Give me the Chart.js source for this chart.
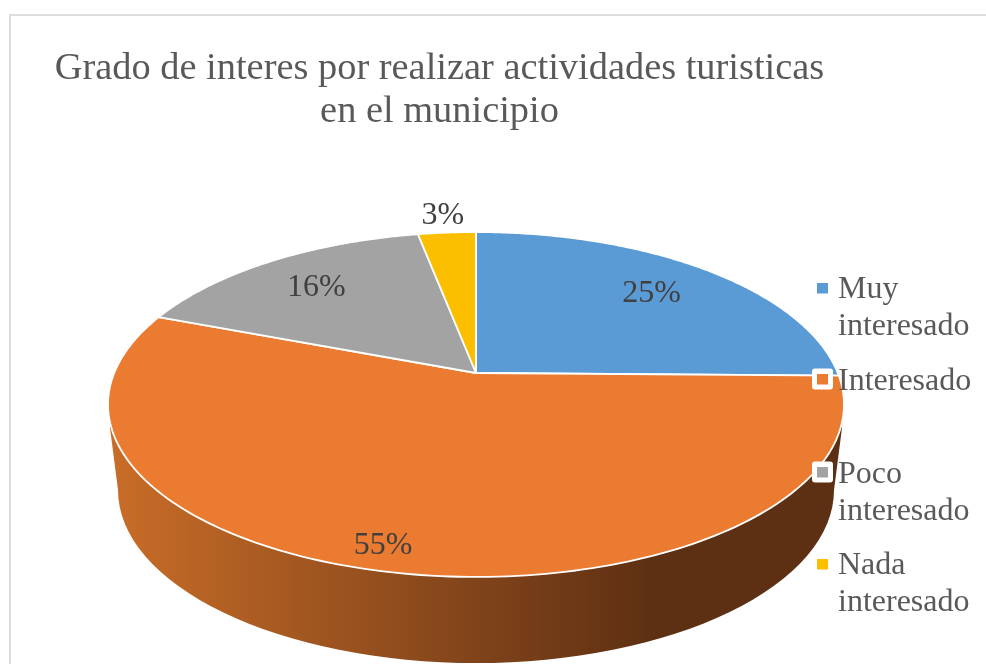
<!DOCTYPE html>
<html lang="es">
<head>
<meta charset="utf-8">
<style>html,body{margin:0;padding:0;background:#fff}canvas{display:block}</style>
<script src="https://cdn.jsdelivr.net/npm/chart.js@4/dist/chart.umd.min.js"></script>
</head>
<body>
<canvas id="c" width="986" height="664"></canvas>
<script>
const titleLines = ['Grado de interes por realizar actividades turisticas', 'en el municipio'];
const categories = ['Muy interesado', 'Interesado', 'Poco interesado', 'Nada interesado'];
const legendLines = [['Muy', 'interesado'], ['Interesado'], ['Poco', 'interesado'], ['Nada', 'interesado']];
const values = [25, 55, 16, 3];
const colors = ['#5B9BD5', '#EA7B31', '#A3A3A3', '#FBBF00'];

const FONT = '"Liberation Serif", "Times New Roman", serif';
// Perspective projection of the unit disc onto the page
const P = {cx: 476, cy: 373, bx: 361.8, ay: 166.7, k: -0.1826};
function project(u, v) {
  const w = 1 + P.k * v;
  return [P.cx + P.bx * u / w, P.cy + P.ay * v / w];
}
const labelRadius = [0.76, 0.887, 0.76, 1.169];
const labelTurn = [-0.016, 0.056, 0, 0];
const legendBaselines = [[298, 335], [390], [483, 520], [574, 611]];
const legendBoxTop = [283, 374, 467, 559];
const legendHandle = [false, true, true, false];

const pie3d = {
  id: 'pie3d',
  beforeDraw(chart) {
    const c = chart.ctx;
    c.save();
    c.fillStyle = '#fff';
    c.fillRect(0, 0, chart.width, chart.height);
    c.strokeStyle = '#DDDDDD';
    c.lineWidth = 2;
    c.beginPath();
    c.moveTo(10, chart.height);
    c.lineTo(10, 15);
    c.lineTo(chart.width, 15);
    c.stroke();
    c.restore();
  },
  beforeDatasetsDraw(chart) {
    const c = chart.ctx;
    const arcs = chart.getDatasetMeta(0).data;
    c.save();
    // side wall
    const g = c.createLinearGradient(108, 0, 650, 0);
    g.addColorStop(0, '#C96D28');
    g.addColorStop(1, '#5E3013');
    c.fillStyle = g;
    c.beginPath();
    c.moveTo(110, 400);
    c.lineTo(110, 428);
    c.lineTo(118, 490);
    c.ellipse(476, 490, 358, 173, 0, Math.PI, 0, true);
    c.lineTo(842, 428);
    c.lineTo(843, 400);
    c.closePath();
    c.fill();
    // top face
    c.lineJoin = 'round';
    arcs.forEach((a, i) => {
      const steps = 160;
      c.beginPath();
      const o = project(0, 0);
      c.moveTo(o[0], o[1]);
      for (let s = 0; s <= steps; s++) {
        const t = a.startAngle + (a.endAngle - a.startAngle) * s / steps;
        const p = project(Math.cos(t), Math.sin(t));
        c.lineTo(p[0], p[1]);
      }
      c.closePath();
      c.fillStyle = a.options.backgroundColor;
      c.fill();
      c.strokeStyle = '#fff';
      c.lineWidth = 1.8;
      c.stroke();
    });
    // value labels
    c.fillStyle = '#404040';
    c.font = '32px ' + FONT;
    c.textAlign = 'center';
    c.textBaseline = 'alphabetic';
    arcs.forEach((a, i) => {
      const t = (a.startAngle + a.endAngle) / 2 + labelTurn[i];
      const r = labelRadius[i];
      const p = project(r * Math.cos(t), r * Math.sin(t));
      c.fillText(values[i] + '%', p[0], p[1] + 11);
    });
    // legend
    c.textAlign = 'left';
    categories.forEach((name, i) => {
      const top = legendBoxTop[i];
      if (legendHandle[i]) {
        c.fillStyle = '#fff';
        c.beginPath();
        c.roundRect(812, top - 5.5, 21, 21, 3);
        c.fill();
      }
      c.fillStyle = colors[i];
      c.fillRect(817, top, 11, 10.5);
      c.fillStyle = '#595959';
      legendLines[i].forEach((line, j) => c.fillText(line, 838, legendBaselines[i][j]));
    });
    c.restore();
    return false;
  }
};

new Chart(document.getElementById('c'), {
  type: 'pie',
  data: {
    labels: categories,
    datasets: [{data: values, backgroundColor: colors, borderColor: '#fff', borderWidth: 2}]
  },
  options: {
    responsive: false,
    animation: false,
    layout: {padding: {right: 107, top: 0}},
    plugins: {
      legend: {display: false},
      tooltip: {enabled: false},
      title: {
        display: true,
        text: titleLines,
        color: '#595959',
        font: {family: FONT, size: 38.4, weight: 'normal', lineHeight: 1.12},
        padding: {top: 47, bottom: 10}
      }
    }
  },
  plugins: [pie3d]
});
</script>
</body>
</html>
